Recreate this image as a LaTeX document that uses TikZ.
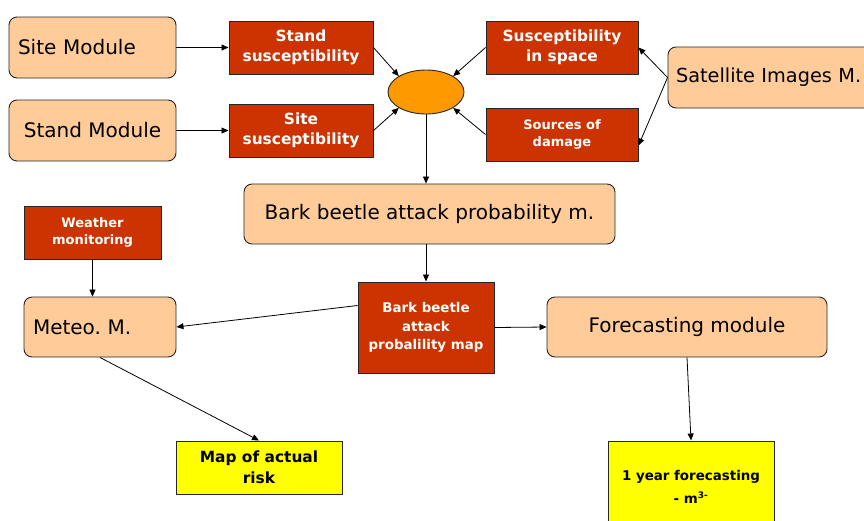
\documentclass[tikz,border=0pt]{standalone}
\usepackage{fontspec}
\setmainfont{DejaVu Sans}
\usetikzlibrary{shapes.geometric,arrows.meta}

\definecolor{modfill}{RGB}{255,204,153}
\definecolor{redfill}{RGB}{204,51,0}
\definecolor{ellfill}{RGB}{255,153,0}
\definecolor{yelfill}{RGB}{255,255,0}

\tikzset{
  module/.style={draw=black!85, line width=0.9pt, rounded corners=8pt, fill=modfill,
    font=\fontsize{20}{24}\selectfont, inner sep=0pt, align=center, minimum height=61pt},
  redcell/.style={draw=black!85, line width=1pt, fill=redfill, text=white,
    font=\bfseries\fontsize{15.4}{20}\selectfont, inner sep=0pt, align=center},
  smallred/.style={redcell, font=\bfseries\fontsize{13}{17.5}\selectfont},
  rescell/.style={draw=black!85, line width=1pt, fill=yelfill,
    font=\bfseries\fontsize{15.4}{21}\selectfont, inner sep=0pt, align=center},
  link/.style={-{Triangle[length=7pt,width=6pt]}, line width=0.8pt},
}

\begin{document}
\frenchspacing
\begin{tikzpicture}[x=1pt,y=1pt,yscale=-1]
\useasboundingbox (0,0) rectangle (864,520);
\clip (0,0) rectangle (864,520);

% modules
\node[module, minimum width=167pt, text width=149pt, align=left] (site) at (92.5,47.5) {Site Module};
\node[module, minimum width=167pt] (stand) at (92.5,130.5) {Stand Module};
\node[module, font=\fontsize{19.3}{24}\selectfont, minimum width=212pt, text width=196pt, align=left] (sat) at (774,77.5) {Satellite Images M.};
\node[module, minimum width=371pt, minimum height=60pt] (bark) at (429.5,214) {Bark beetle attack probability m.};
\node[module, minimum width=152pt, minimum height=60pt, text width=134pt, align=left] (meteo) at (100,327) {Meteo. M.};
\node[module, minimum width=280pt, minimum height=60pt] (fc) at (687,327) {Forecasting module};

% intermediate layers
\node[redcell, minimum width=144pt, minimum height=53pt] (stsusc) at (301,47.5) {Stand\\susceptibility};
\node[redcell, minimum width=144pt, minimum height=53pt] (sisusc) at (301,130.5) {Site\\susceptibility};
\node[redcell, minimum width=152pt, minimum height=53pt] (spsusc) at (562,47.5) {Susceptibility\\in space};
\node[smallred, minimum width=152pt, minimum height=53pt] (src) at (562,134.5) {Sources of\\damage};
\node[smallred, minimum width=137pt, minimum height=53pt] (weather) at (92.5,232.5) {Weather\\monitoring};
\node[smallred, font=\bfseries\fontsize{13.4}{18.5}\selectfont, minimum width=136pt, minimum height=91pt] (map) at (426,327.5) {Bark beetle\\attack\\probalility map};

% junction
\node[ellipse, draw=black!85, line width=0.9pt, fill=ellfill, minimum width=76pt, minimum height=44pt, inner sep=0pt] (ell) at (426,92) {};

% results
\node[rescell, minimum width=166pt, minimum height=53pt] (risk) at (259,467.5) {Map of actual\\risk};
\node[rescell, font=\bfseries\fontsize{13.4}{23}\selectfont, minimum width=166pt, minimum height=92pt] (year) at (691,487) {1 year forecasting\\- m\textsuperscript{\fontsize{9}{9}\selectfont 3-}};

% connectors
\draw[link] (site) -- (stsusc);
\draw[link] (stand) -- (sisusc);
\draw[link] (stsusc.east) -- (ell.north west);
\draw[link] (sisusc.east) -- (ell.south west);
\draw[link] (spsusc.west) -- (ell.north east);
\draw[link] (src.west) -- (ell.south east);
\draw[link] (sat.west) -- (spsusc.east);
\draw[link] (sat.west) -- ([yshift=11pt]src.east);
\draw[link] (ell.south) -- (ell.south |- bark.north);
\draw[link] (map.north |- bark.south) -- (map.north);
\draw[link] (weather.south) -- (weather.south |- meteo.north);
\draw[link] ([yshift=-22pt]map.west) -- (meteo.east);
\draw[link] (map.east) -- (fc.west);
\draw[link] (meteo.south) -- (risk.north);
\draw[link] (fc.south) -- (year.north);

\end{tikzpicture}
\end{document}
